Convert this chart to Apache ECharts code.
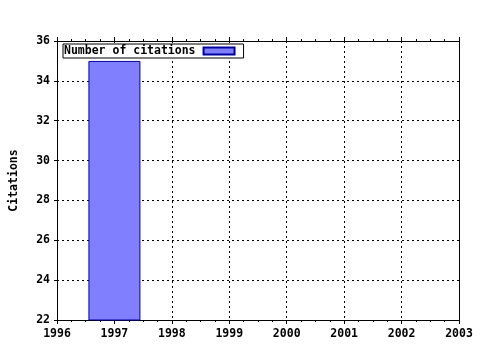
<!DOCTYPE html>
<html><head><meta charset="utf-8">
<script src="https://cdn.jsdelivr.net/npm/echarts@6/dist/echarts.min.js"></script>
<style>html,body{margin:0;padding:0;background:#fff}#c{width:480px;height:350px}</style>
</head><body><div id="c"></div>
<script>
const years = [1997];
const citations = [35];
const seriesName = 'Number of citations';
const yAxisName = 'Citations';
const xMin = 1996, xMax = 2003;
const yMin = 22, yMax = 36, yStep = 2;

const font = 'DejaVu Sans Mono';
const chart = echarts.init(document.getElementById('c'), null, {renderer: 'canvas'});
const tickX = {
  type: 'value', min: xMin, max: xMax, interval: 1,
  axisLine: {show: true, onZero: false, lineStyle: {color: '#000', width: 1}},
  axisTick: {show: true, inside: false, length: 4, lineStyle: {color: '#000'}},
  minorTick: {show: true, splitNumber: 4, length: 2, lineStyle: {color: '#000'}},
  splitLine: {show: false}
};
chart.setOption({
  animation: false,
  grid: {left: 57, right: 21, top: 41, bottom: 30, show: false, outerBoundsMode: 'none', containLabel: false},
  legend: {
    left: 63, top: 44, orient: 'horizontal', align: 'right',
    backgroundColor: '#fff', borderColor: '#000', borderWidth: 1, borderRadius: 0,
    padding: [1, 8, 1, 1], itemWidth: 31, itemHeight: 7, icon: 'rect',
    textStyle: {fontFamily: font, fontWeight: 'bold', fontSize: 11.5, color: '#000', lineHeight: 11, padding: [0, 3, 0, 0]},
    data: [seriesName]
  },
  xAxis: [
    Object.assign({}, tickX, {
      position: 'bottom',
      axisLabel: {show: true, margin: 8, color: '#000', fontFamily: font, fontWeight: 'bold', fontSize: 11.5,
        formatter: v => String(v)},
      splitLine: {show: true, lineStyle: {color: '#000', type: [2, 3], width: 1}}
    }),
    Object.assign({}, tickX, {position: 'top', axisLabel: {show: false}})
  ],
  yAxis: [
    {
      type: 'value', min: yMin, max: yMax, interval: yStep,
      name: yAxisName, nameLocation: 'middle', nameGap: 37, nameRotate: 90,
      nameTextStyle: {fontFamily: font, fontWeight: 'bold', fontSize: 11.5, color: '#000'},
      axisLine: {show: true, onZero: false, lineStyle: {color: '#000', width: 1}},
      axisTick: {show: true, inside: false, length: 3, lineStyle: {color: '#000'}},
      axisLabel: {margin: 7, color: '#000', fontFamily: font, fontWeight: 'bold', fontSize: 11.5},
      splitLine: {show: true, lineStyle: {color: '#000', type: [2, 3], width: 1}}
    },
    {
      type: 'value', min: yMin, max: yMax, interval: yStep, position: 'right',
      axisLine: {show: true, onZero: false, lineStyle: {color: '#000', width: 1}},
      axisTick: {show: false}, axisLabel: {show: false}, splitLine: {show: false}
    }
  ],
  series: [{
    name: seriesName, type: 'bar', xAxisIndex: 0, yAxisIndex: 0,
    barWidth: 52,
    itemStyle: {color: '#8080ff', borderColor: '#0000a0', borderWidth: 1},
    data: years.map((y, i) => [y, citations[i]])
  }]
});
</script></body></html>
